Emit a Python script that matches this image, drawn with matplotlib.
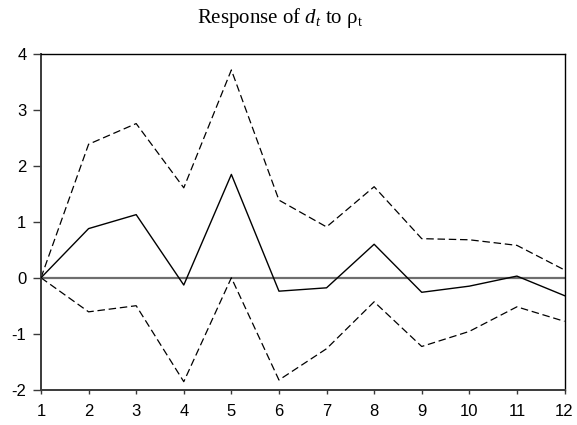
import matplotlib
matplotlib.use("Agg")
import matplotlib.pyplot as plt

# Impulse response horizon and estimates
periods = [1, 2, 3, 4, 5, 6, 7, 8, 9, 10, 11, 12]
response = [0.0, 0.88, 1.13, -0.13, 1.85, -0.24, -0.18, 0.60, -0.26, -0.15, 0.03, -0.32]
upper_band = [0.0, 2.39, 2.76, 1.61, 3.72, 1.39, 0.91, 1.63, 0.70, 0.68, 0.58, 0.14]
lower_band = [0.0, -0.61, -0.50, -1.86, 0.0, -1.83, -1.27, -0.43, -1.23, -0.96, -0.52, -0.78]
y_ticks = [-2, -1, 0, 1, 2, 3, 4]

plt.rcParams["mathtext.fontset"] = "custom"
plt.rcParams["mathtext.it"] = "Liberation Serif:italic"
plt.rcParams["mathtext.rm"] = "Liberation Serif"
plt.rcParams["axes.unicode_minus"] = False

fig = plt.figure(figsize=(5.77, 4.25), dpi=100)
ax = fig.add_axes([41 / 577, 1 - 389.5 / 425, (564.5 - 41) / 577, (389.5 - 54.3) / 425])

ax.axhline(0, color="#6e6e6e", linewidth=1.6, zorder=1)
ax.plot(periods, response, color="black", linewidth=1.0, zorder=3)
ax.plot(periods, upper_band, color="black", linewidth=0.9, linestyle=(0, (6, 3)), zorder=2)
ax.plot(periods, lower_band, color="black", linewidth=0.9, linestyle=(0, (6, 3)), zorder=2)

ax.set_xlim(1, 12)
ax.set_ylim(-2, 4)
ax.set_xticks(periods)
ax.set_yticks(y_ticks)

for side in ["top", "right"]:
    ax.spines[side].set_color("black")
    ax.spines[side].set_linewidth(1.0)
for side in ["left", "bottom"]:
    ax.spines[side].set_color("#3a3a3a")
    ax.spines[side].set_linewidth(1.4)

ax.tick_params(axis="y", direction="out", length=5.5, width=1.0, color="#3a3a3a",
               labelsize=12, pad=5)
ax.tick_params(axis="x", direction="out", length=3.2, width=1.0, color="#3a3a3a",
               labelsize=12, pad=7.5)
for lbl in ax.get_xticklabels() + ax.get_yticklabels():
    lbl.set_fontfamily("Liberation Sans")

fig.text(280 / 577, 1 - 18 / 425, r"Response of $d_t$ to ρ$_{\mathrm{t}}$",
         ha="center", va="center", fontsize=15, family="Liberation Serif")

fig.savefig("out.png", dpi=100)
